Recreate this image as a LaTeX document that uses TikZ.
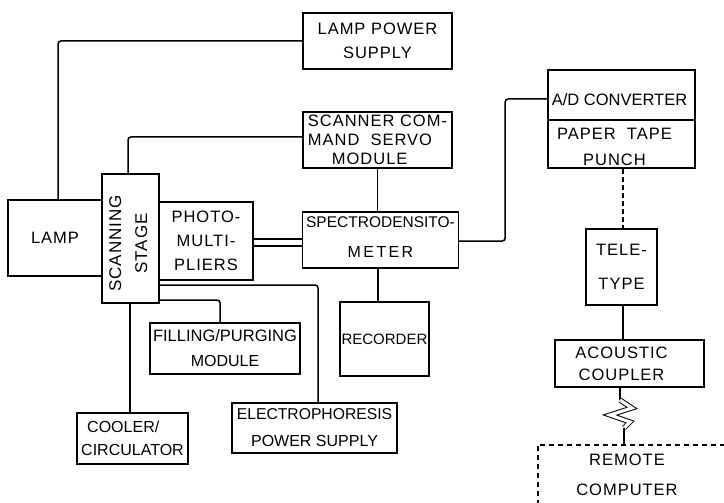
\documentclass[tikz,border=0pt]{standalone}
\usepackage{fontspec}
\setmainfont{Liberation Sans}[LetterSpace=6]
\newfontfamily\tightfont{Liberation Sans}
\usepackage{graphicx}
\begin{document}
\begin{tikzpicture}[x=1pt,y=-1pt,
  box/.style={draw, line width=1.4pt, inner sep=0pt, align=center},
  lsp/.style={font=\fontsize{16.5}{#1}\selectfont},
  tsp/.style={font=\tightfont\fontsize{16}{#1}\selectfont},
  lbl/.style={inner sep=0pt, align=center},
  conn/.style={line width=1.5pt, rounded corners=3pt}]
\useasboundingbox (0,0) rectangle (724,503);
\clip (0,0) rectangle (724,503);

\node[box, lsp=24, minimum width=149pt, minimum height=56pt] (lps) at (377.5,41) {LAMP POWER\\SUPPLY};
\node[box, lsp=19, align=left, minimum width=149pt, minimum height=56pt] (scsm) at (377.5,140) {SCANNER COM-\\MAND\ \ SERVO\\\hspace*{24pt}MODULE};
\node[box, minimum width=57pt, minimum height=129pt,
  label={[lbl, lsp=20, yshift=-5pt, xshift=-0.5pt]center:{\rotatebox{90}{\begin{tabular}{@{}c@{}}\fontsize{17}{20}\selectfont SCANNING\\[6pt]\fontsize{17}{20}\selectfont STAGE\end{tabular}}}}] (stage) at (130.5,238.5) {};
\node[box, lsp=20, minimum width=94pt, minimum height=76pt] (lamp) at (55,238) {LAMP};
\node[box, lsp=24, minimum width=94pt, minimum height=78pt] (photo) at (206,241) {PHOTO-\\MULTI-\\PLIERS};
\node[box, minimum width=156pt, minimum height=56pt,
  label={[lbl, tsp=30, yshift=3pt]center:{\fontsize{15.5}{30}\selectfont SPECTRODENSITO-\\\addfontfeatures{LetterSpace=15}METER}}] (spectro) at (380.5,240) {};
\node[box, tsp=20, minimum width=89pt, minimum height=74pt] (recorder) at (384.5,339) {\fontsize{15}{20}\selectfont RECORDER};
\node[box, minimum width=147pt, minimum height=50pt,
  label={[lbl, font=\tightfont\fontsize{16.5}{20}\selectfont, yshift=-5pt, xshift=-2pt]center:{A/D CONVERTER}}] (ad) at (621.5,95) {};
\node[box, minimum width=147pt, minimum height=48pt,
  label={[lbl, lsp=26, yshift=-3pt, xshift=-7pt]center:{PAPER\ \ TAPE\\PUNCH}}] (ptp) at (621.5,144) {};
\node[box, lsp=34, minimum width=71pt, minimum height=76pt] (tele) at (621.5,267) {TELE-\\TYPE};
\node[box, minimum width=149pt, minimum height=47pt,
  label={[lbl, lsp=22, xshift=-8pt]center:{ACOUSTIC\\COUPLER}}] (ac) at (629.5,363.5) {};
\node[inner sep=0pt, align=center, lsp=30, minimum width=178pt, minimum height=60pt] (remote) at (627,475) {REMOTE\\COMPUTER};
\node[box, tsp=25, minimum width=150pt, minimum height=51pt] (filling) at (225,348.5) {\fontsize{16.5}{25}\selectfont FILLING/PURGING\\MODULE};
\node[box, tsp=27, minimum width=165pt, minimum height=50pt] (electro) at (314.5,428) {\fontsize{15.7}{27}\selectfont ELECTROPHORESIS\\POWER SUPPLY};
\node[box, tsp=23, align=left, minimum width=111pt, minimum height=51pt] (cooler) at (132.5,438.5) {\hspace*{6pt}COOLER/\\CIRCULATOR};

% remote computer dashed frame
\draw[line width=1.5pt, dash pattern=on 5pt off 4pt] (remote.south west) -- (remote.north west) -- ([xshift=30pt]remote.north east);

% connectors
\draw[conn] (lps.west) -| ([xshift=3pt]lamp.north);
\draw[conn] ([yshift=3pt]scsm.west) -| ([xshift=-2.5pt]stage.north);
\draw[conn] (scsm.south) -- (scsm.south |- spectro.north);
\draw[conn] ([yshift=2pt]photo.east) -- ([yshift=2pt]photo.east -| spectro.west);
\draw[conn] ([yshift=-5pt]photo.east) -- ([yshift=-5pt]photo.east -| spectro.west);
\draw[conn] ([xshift=-2.5pt]spectro.south) -- ([xshift=-2.5pt]spectro.south |- recorder.north);
\draw[conn] ([yshift=-1pt]spectro.east) -- ++(46pt,0) |- ([yshift=-4pt]ad.west);
\draw[conn, dash pattern=on 5pt off 3pt] ([xshift=1.5pt]ptp.south) -- ([xshift=1.5pt]tele.north);
\draw[conn] ([xshift=1.5pt]tele.south) -- ([xshift=1.5pt]tele.south |- ac.north);
\draw[conn] ([yshift=-46.5pt]stage.east) -| ([xshift=3.5pt]electro.north);
\draw[conn] ([yshift=-61.5pt]stage.east) -| ([xshift=-5pt]filling.north);
\draw[conn] ([xshift=-0.5pt]stage.south) -- ([xshift=-0.5pt]stage.south |- cooler.north);

% zigzag link
\coordinate (z1) at (620,400);
\coordinate (z2) at (624,428);
\draw[conn] ([xshift=-9.5pt]ac.south) -- (z1);
\draw[line width=1pt, double, double distance=3.2pt, line join=miter] (z1) -- (632,408) -- (610,415) -- (630,422) -- (z2);
\draw[conn] (z2) -- (z2 |- remote.north);
\end{tikzpicture}
\end{document}
